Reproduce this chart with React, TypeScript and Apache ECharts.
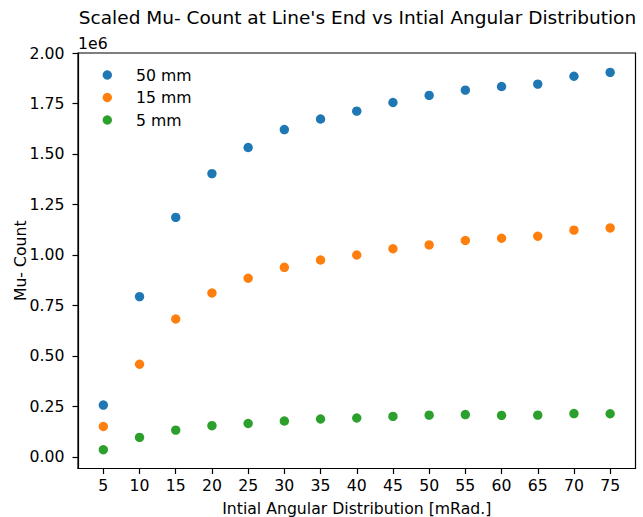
import React, { useEffect, useRef } from "react";
import * as echarts from "echarts";

const angles = [5, 10, 15, 20, 25, 30, 35, 40, 45, 50, 55, 60, 65, 70, 75];
const mm50 = [257000, 794000, 1186000, 1403000, 1532000, 1621000, 1673000, 1712000, 1755000, 1790000, 1816000, 1834000, 1846000, 1885000, 1904000];
const mm15 = [151000, 459000, 683000, 812000, 885000, 939000, 975000, 1000000, 1031000, 1050000, 1072000, 1083000, 1093000, 1123000, 1134000];
const mm5 = [36000, 97000, 133000, 155000, 166000, 178000, 188000, 193000, 201000, 207000, 210000, 206000, 207000, 215000, 214000];
const xTicks = [5, 10, 15, 20, 25, 30, 35, 40, 45, 50, 55, 60, 65, 70, 75];
const yTicks = [0, 250000, 500000, 750000, 1000000, 1250000, 1500000, 1750000, 2000000];

const FONT = "DejaVu Sans";
const FS = 15.7;

export default function App() {
  const ref = useRef<HTMLDivElement>(null);
  useEffect(() => {
    if (!ref.current) return;
    const chart = echarts.init(ref.current, undefined, { renderer: "svg" });
    const mk = (name: string, vals: number[], color: string) => ({
      name,
      type: "scatter",
      symbol: "circle",
      symbolSize: 9.4,
      itemStyle: { color, opacity: 1 },
      data: angles.map((a, i) => [a, vals[i]]),
    });
    chart.setOption({
      animation: false,
      backgroundColor: "#ffffff",
      textStyle: { fontFamily: FONT },
      title: {
        text: "Scaled Mu- Count at Line's End vs Intial Angular Distribution",
        left: 357.5,
        textAlign: "center",
        top: 8,
        padding: 0,
        textStyle: { fontFamily: FONT, fontSize: 18.5, fontWeight: "normal", color: "#000" },
      },
      graphic: [
        {
          type: "text",
          left: 78,
          top: 35,
          style: { text: "1e6", fontFamily: FONT, fontSize: FS, fill: "#000" },
        },
      ],
      legend: {
        orient: "vertical",
        left: 102.6,
        top: 66,
        padding: 0,
        itemWidth: 47.4,
        itemHeight: 9.4,
        itemGap: 4.5,
        icon: "circle",
        textStyle: { fontFamily: FONT, fontSize: FS, color: "#000", lineHeight: 18 },
        data: ["50 mm", "15 mm", "5 mm"],
      },
      grid: {
        left: 78,
        right: 7.5,
        top: 53,
        bottom: 48.5,
        outerBoundsMode: "none",
        containLabel: false,
        show: true,
        borderColor: "#000",
        borderWidth: 1.2,
        backgroundColor: "transparent",
      },
      xAxis: {
        type: "value",
        min: 1.5,
        max: 78.5,
        name: "Intial Angular Distribution [mRad.]",
        nameLocation: "middle",
        nameGap: 31.5,
        nameMoveOverlap: false,
        nameTextStyle: { fontFamily: FONT, fontSize: FS, color: "#000" },
        splitLine: { show: false },
        axisLine: { show: true, onZero: false, lineStyle: { color: "#000", width: 1.2 } },
        axisTick: { show: true, inside: false, length: 5.5, lineStyle: { color: "#000", width: 1.2 }, customValues: xTicks },
        axisLabel: {
          fontFamily: FONT,
          fontSize: FS,
          color: "#000",
          margin: 9,
          customValues: xTicks,
          formatter: (v: number) => String(v),
        },
      },
      yAxis: {
        type: "value",
        min: -57000,
        max: 2000000,
        name: "Mu- Count",
        nameLocation: "middle",
        nameGap: 50,
        nameMoveOverlap: false,
        nameRotate: 90,
        nameTextStyle: { fontFamily: FONT, fontSize: FS, color: "#000" },
        splitLine: { show: false },
        axisLine: { show: true, onZero: false, lineStyle: { color: "#000", width: 1.2 } },
        axisTick: { show: true, inside: false, length: 5.5, lineStyle: { color: "#000", width: 1.2 }, customValues: yTicks },
        axisLabel: {
          fontFamily: FONT,
          fontSize: FS,
          color: "#000",
          margin: 13.5,
          customValues: yTicks,
          formatter: (v: number) => (v / 1e6).toFixed(2),
        },
      },
      series: [mk("50 mm", mm50, "#1f77b4"), mk("15 mm", mm15, "#ff7f0e"), mk("5 mm", mm5, "#2ca02c")],
    });
    return () => chart.dispose();
  }, []);
  return <div ref={ref} style={{ width: 643, height: 517, position: "absolute", left: 0, top: 0 }} />;
}
